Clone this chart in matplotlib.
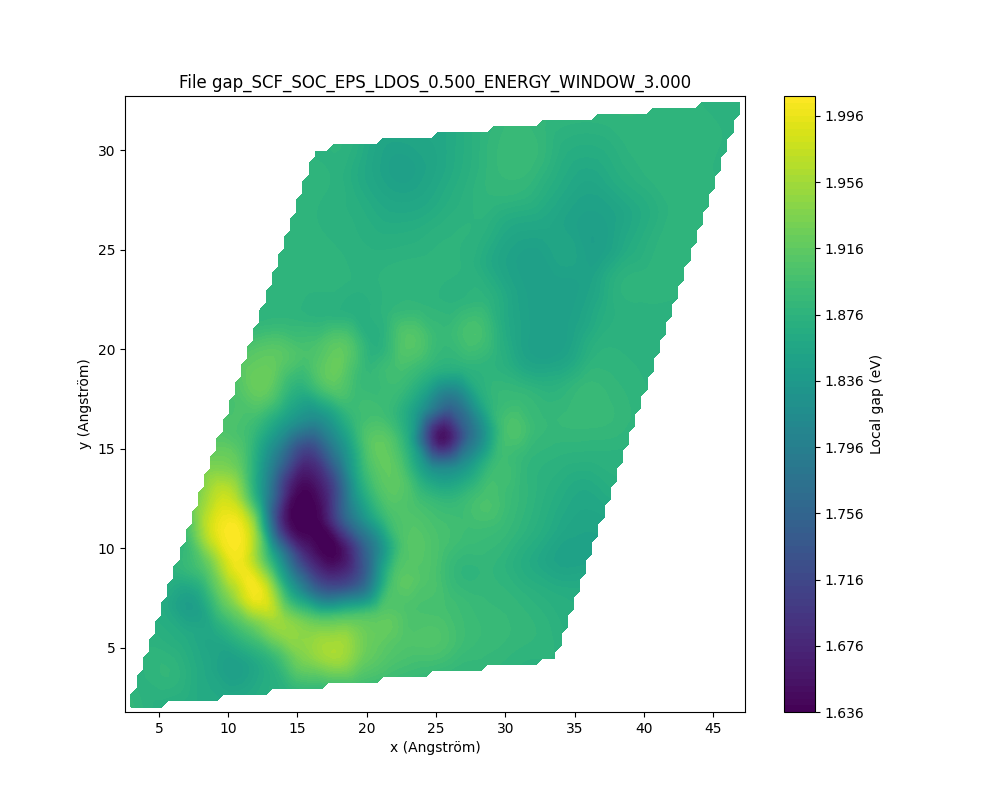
#Local gap map from the LDOS energy window

import numpy as np
import matplotlib
matplotlib.use("Agg")
import matplotlib.pyplot as plt
import matplotlib.tri as mtri

# cell corners (Angstrom), a bit wider than the map so the edge cells survive the mask
origin = [2.57, 1.80]
vec_a = [31.2, 2.5]
vec_b = [13.56, 28.37]

# fractions along the two cell vectors
frac_a = np.linspace(0, 1, 14)
frac_b = np.linspace(0, 1, 17)

# local gap in eV, one row per frac_b value
gap_rows = [
    [1.885, 1.870, 1.865, 1.860, 1.865, 1.875, 1.885, 1.895, 1.890, 1.885, 1.880, 1.880, 1.875, 1.875],
    [1.875, 1.880, 1.860, 1.845, 1.875, 1.935, 1.960, 1.920, 1.905, 1.905, 1.890, 1.885, 1.880, 1.870],
    [1.875, 1.865, 1.860, 1.905, 1.950, 1.920, 1.910, 1.910, 1.900, 1.895, 1.885, 1.880, 1.870, 1.865],
    [1.865, 1.845, 1.930, 2.000, 1.840, 1.720, 1.740, 1.900, 1.905, 1.880, 1.880, 1.865, 1.850, 1.850],
    [1.875, 1.910, 2.000, 1.870, 1.680, 1.640, 1.780, 1.905, 1.900, 1.890, 1.885, 1.870, 1.855, 1.855],
    [1.885, 1.995, 1.970, 1.670, 1.636, 1.780, 1.890, 1.900, 1.885, 1.900, 1.885, 1.870, 1.860, 1.870],
    [1.930, 1.975, 1.830, 1.650, 1.690, 1.870, 1.915, 1.840, 1.830, 1.890, 1.880, 1.875, 1.875, 1.875],
    [1.930, 1.910, 1.800, 1.700, 1.810, 1.915, 1.870, 1.650, 1.780, 1.900, 1.885, 1.885, 1.885, 1.878],
    [1.905, 1.890, 1.840, 1.820, 1.885, 1.890, 1.840, 1.770, 1.870, 1.885, 1.875, 1.885, 1.880, 1.875],
    [1.900, 1.920, 1.875, 1.915, 1.885, 1.895, 1.875, 1.875, 1.875, 1.850, 1.850, 1.875, 1.875, 1.875],
    [1.910, 1.915, 1.900, 1.915, 1.870, 1.910, 1.885, 1.900, 1.860, 1.845, 1.850, 1.870, 1.875, 1.875],
    [1.880, 1.880, 1.875, 1.870, 1.878, 1.880, 1.875, 1.875, 1.850, 1.845, 1.850, 1.875, 1.878, 1.878],
    [1.880, 1.878, 1.878, 1.875, 1.878, 1.878, 1.875, 1.855, 1.845, 1.855, 1.845, 1.865, 1.878, 1.878],
    [1.880, 1.878, 1.875, 1.870, 1.870, 1.875, 1.875, 1.860, 1.858, 1.848, 1.850, 1.865, 1.878, 1.878],
    [1.880, 1.875, 1.870, 1.858, 1.858, 1.870, 1.880, 1.880, 1.865, 1.855, 1.868, 1.878, 1.878, 1.875],
    [1.880, 1.875, 1.858, 1.845, 1.855, 1.870, 1.885, 1.885, 1.868, 1.868, 1.878, 1.878, 1.878, 1.875],
    [1.875, 1.875, 1.855, 1.855, 1.860, 1.875, 1.885, 1.880, 1.878, 1.880, 1.880, 1.878, 1.875, 1.875],
]

levels = np.arange(1.636, 2.0085, 0.004)
cbar_ticks = np.arange(1.636, 2.0, 0.04)

# points in real space
fa, fb = np.meshgrid(frac_a, frac_b)
x = origin[0] + fa * vec_a[0] + fb * vec_b[0]
y = origin[1] + fa * vec_a[1] + fb * vec_b[1]
gap = np.array(gap_rows)

# regular grid, masked outside the cell
tri = mtri.Triangulation(x.ravel(), y.ravel())
interp = mtri.CubicTriInterpolator(tri, gap.ravel(), kind="geom")
xi = np.linspace(2.98, 46.88, 100)
yi = np.linspace(2.03, 32.41, 100)
xg, yg = np.meshgrid(xi, yi)
zg = np.ma.clip(interp(xg, yg), levels[0], levels[-1])

fig, ax = plt.subplots(figsize=(10, 8), dpi=100)
cs = ax.contourf(xg, yg, zg, levels=levels, cmap="viridis")
ax.set_xlim(2.55, 47.3)
ax.set_ylim(1.78, 32.72)
ax.set_xlabel("x (Angström)")
ax.set_ylabel("y (Angström)")
ax.set_title("File gap_SCF_SOC_EPS_LDOS_0.500_ENERGY_WINDOW_3.000")

cbar = fig.colorbar(cs, ax=ax, ticks=cbar_ticks, format="%.3f")
cbar.set_label("Local gap (eV)")

fig.savefig("out.png", dpi=100)
